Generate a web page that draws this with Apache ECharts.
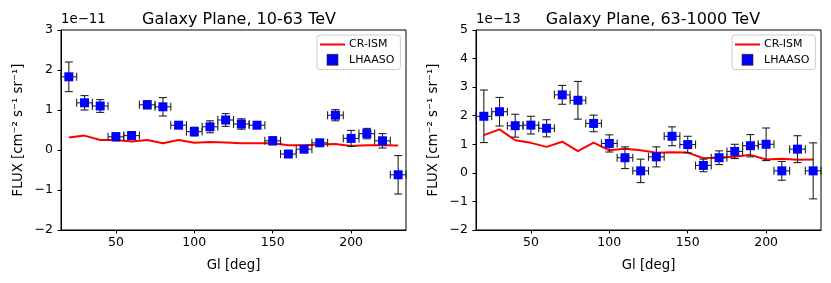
<!DOCTYPE html>
<html>
<head>
<meta charset="utf-8">
<script src="https://cdn.jsdelivr.net/npm/echarts@6/dist/echarts.min.js"></script>
<style>html,body{margin:0;padding:0;background:#fff}#c{width:831px;height:283px}</style>
</head>
<body>
<div id="c"></div>
<script>
// Galactic longitude bins (deg)
const gl = [20,30,40,50,60,70,80,90,100,110,120,130,140,150,160,170,180,190,200,210,220,230];
const glErr = [5,5,5,5,5,5,5,5,5,5,5,5,5,5,5,5,5,5,5,5,5,5];

// Panel 1: 10-63 TeV (units of 1e-11)
const flux1 = [1.83,1.18,1.10,0.33,0.36,1.13,1.08,0.62,0.46,0.58,0.75,0.65,0.62,0.23,-0.10,0.02,0.18,0.87,0.29,0.41,0.23,-0.62];
const err1  = [0.37,0.18,0.16,0.10,0.10,0.10,0.23,0.08,0.11,0.15,0.16,0.13,0.08,0.10,0.05,0.06,0.07,0.14,0.20,0.13,0.18,0.48];
const crism1 = [0.31,0.36,0.25,0.25,0.21,0.25,0.17,0.25,0.18,0.20,0.19,0.17,0.17,0.17,0.12,0.12,0.14,0.15,0.10,0.12,0.12,0.11];

// Panel 2: 63-1000 TeV (units of 1e-13)
const flux2 = [1.98,2.14,1.65,1.67,1.56,2.73,2.54,1.73,1.03,0.53,0.07,0.56,1.28,0.99,0.26,0.53,0.75,0.95,1.00,0.07,0.83,0.07];
const err2  = [0.92,0.50,0.40,0.31,0.30,0.33,0.66,0.29,0.30,0.38,0.41,0.35,0.33,0.29,0.22,0.24,0.25,0.39,0.57,0.33,0.47,0.98];
const crism2 = [1.32,1.52,1.14,1.05,0.91,1.09,0.76,1.06,0.79,0.84,0.79,0.70,0.72,0.71,0.51,0.54,0.56,0.63,0.47,0.49,0.46,0.47];

const xTicks = [50,100,150,200];
const yRange1 = [-2,3];
const yRange2 = [-2,5];
const titles = ['Galaxy Plane, 10-63 TeV','Galaxy Plane, 63-1000 TeV'];
const offsets = ['1e\u221211','1e\u221213'];

const FONT = 'DejaVu Sans';
const chart = echarts.init(document.getElementById('c'), null, {renderer:'canvas'});

function errRender(params, api){
  const x = api.value(0), y = api.value(1), e = api.value(2), xe = api.value(3);
  const t = api.coord([x, y+e]), b = api.coord([x, y-e]);
  const l = api.coord([x-xe, y]), r = api.coord([x+xe, y]);
  const c = 4;
  const st = {stroke:'#222', lineWidth:1.1, fill:null};
  const ln = (x1,y1,x2,y2)=>({type:'line', shape:{x1,y1,x2,y2}, style:st});
  return {type:'group', children:[
    ln(t[0],t[1],b[0],b[1]),
    ln(t[0]-c,t[1],t[0]+c,t[1]),
    ln(b[0]-c,b[1],b[0]+c,b[1]),
    ln(l[0],l[1],r[0],r[1]),
    ln(l[0],l[1]-c,l[0],l[1]+c),
    ln(r[0],r[1]-c,r[0],r[1]+c)
  ]};
}

const grids = [
  {left:61, top:30, width:345, height:200},
  {left:476, top:30, width:345, height:200}
];

function mkX(i){
  return {type:'value', gridIndex:i, min:15, max:235,
    name:'Gl [deg]', nameLocation:'middle', nameGap:29,
    nameTextStyle:{fontFamily:FONT, fontSize:13.3, color:'#000'},
    axisLine:{show:true, onZero:false, lineStyle:{color:'#000', width:1}},
    axisTick:{show:true, length:3.5, customValues:xTicks, lineStyle:{color:'#000'}},
    axisLabel:{show:true, customValues:xTicks, fontFamily:FONT, fontSize:12.5, color:'#000', margin:6},
    splitLine:{show:false}};
}
function mkY(i, rng){
  return {type:'value', gridIndex:i, min:rng[0], max:rng[1], interval:1,
    name:'FLUX [cm\u207B\u00B2 s\u207B\u00B9 sr\u207B\u00B9]', nameLocation:'middle', nameGap:36, nameRotate:90,
    nameTextStyle:{fontFamily:FONT, fontSize:13.3, color:'#000'},
    axisLine:{show:true, onZero:false, lineStyle:{color:'#000', width:1}},
    axisTick:{show:true, length:3.5, lineStyle:{color:'#000'}},
    axisLabel:{fontFamily:FONT, fontSize:12.5, color:'#000', margin:8,
      formatter:v=>String(v).replace('-','\u2212')},
    splitLine:{show:false}};
}

const series = [];
const fluxes = [flux1, flux2], errs = [err1, err2], crs = [crism1, crism2];
for (let i=0;i<2;i++){
  series.push({type:'line', name:'CR-ISM', xAxisIndex:i, yAxisIndex:i, symbol:'none',
    data: gl.map((g,k)=>[g, crs[i][k]]), lineStyle:{color:'#ff0000', width:2}, itemStyle:{color:'#ff0000'}, z:1, animation:false});
  series.push({type:'custom', name:'LHAASO_err', xAxisIndex:i, yAxisIndex:i,
    data: gl.map((g,k)=>[g, fluxes[i][k], errs[i][k], glErr[k]]), renderItem:errRender, z:2, animation:false, silent:true});
  series.push({type:'scatter', name:'LHAASO', xAxisIndex:i, yAxisIndex:i, symbol:'rect', symbolSize:9,
    data: gl.map((g,k)=>[g, fluxes[i][k]]), itemStyle:{color:'#0000ff', opacity:1}, z:3, animation:false});
}

function mkLegend(left){
  return {show:true, orient:'vertical', left:left, top:35, width:72, padding:[4,6,4,3], itemGap:4,
    itemWidth:23, itemHeight:11, borderColor:'#ccc', borderWidth:1, borderRadius:3, backgroundColor:'#fff',
    textStyle:{fontFamily:FONT, fontSize:11, color:'#000'},
    data:[{name:'CR-ISM', icon:'path://M0,5 L22,5 L22,5.01 L0,5.01 Z', itemStyle:{color:'#ff0000', borderColor:'#ff0000', borderWidth:2}},
          {name:'LHAASO', icon:'path://M0,0 L10,0 L10,10 L0,10 Z', itemStyle:{color:'#0000ff', borderColor:'#222', borderWidth:0.6}}]};
}

const option = {
  backgroundColor:'#fff',
  animation:false,
  title:[
    {text:titles[0], left:234, top:7, textAlign:'center', textStyle:{fontFamily:FONT, fontSize:16, fontWeight:'normal', color:'#000'}},
    {text:titles[1], left:648, top:7, textAlign:'center', textStyle:{fontFamily:FONT, fontSize:16, fontWeight:'normal', color:'#000'}},
    {text:offsets[0], left:61, top:13, textStyle:{fontFamily:FONT, fontSize:13.3, fontWeight:'normal', color:'#000'}, padding:0},
    {text:offsets[1], left:476, top:13, textStyle:{fontFamily:FONT, fontSize:13.3, fontWeight:'normal', color:'#000'}, padding:0}
  ],
  grid: grids.map(g=>Object.assign({show:true, borderColor:'#000', borderWidth:1, backgroundColor:'transparent'}, g)),
  xAxis:[mkX(0), mkX(1)],
  yAxis:[mkY(0, yRange1), mkY(1, yRange2)],
  legend:[mkLegend(317), mkLegend(732)],
  series: series
};
chart.setOption(option);
</script>
</body>
</html>
